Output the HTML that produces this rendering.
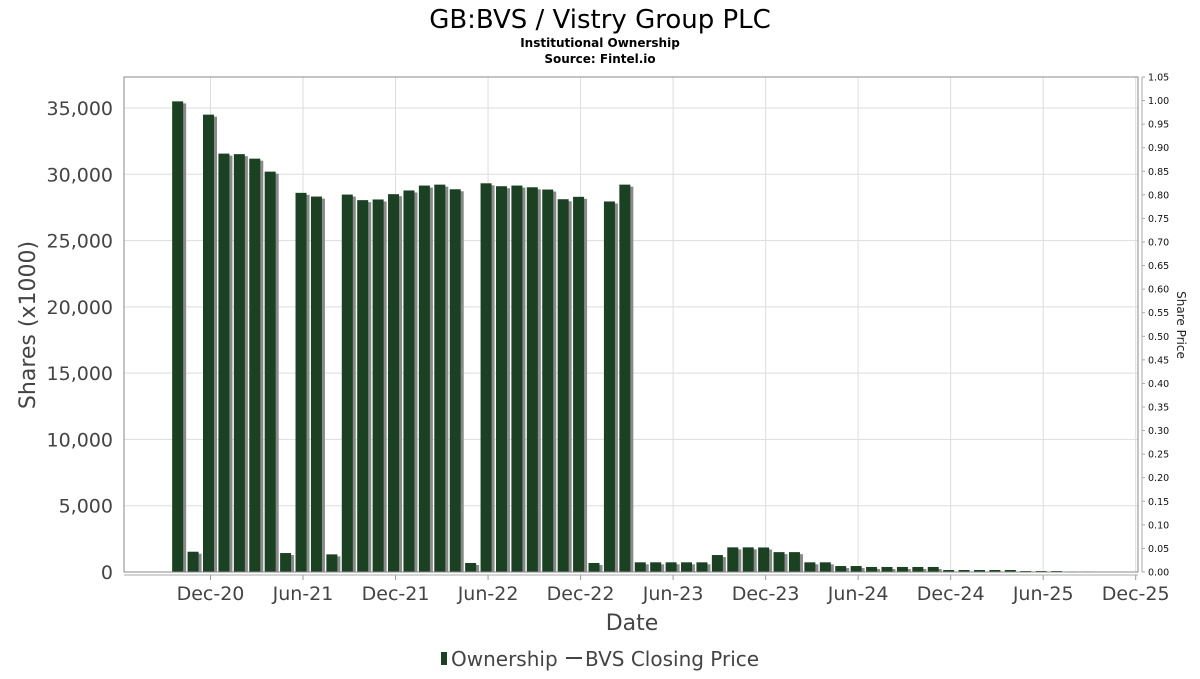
<!DOCTYPE html>
<html><head><meta charset="utf-8"><style>
body{margin:0;background:#fff;width:1200px;height:675px;overflow:hidden;font-family:"DejaVu Sans","Liberation Sans",sans-serif;}
svg text{font-family:"DejaVu Sans","Liberation Sans",sans-serif;}
</style></head><body>
<svg id="chart" width="1200" height="675" viewBox="0 0 1200 675" xmlns="http://www.w3.org/2000/svg">
<text x="600" y="28" text-anchor="middle" font-size="26" fill="#000">GB:BVS / Vistry Group PLC</text>
<text x="600" y="47" text-anchor="middle" font-size="12" font-weight="bold" fill="#000">Institutional Ownership</text>
<text x="600" y="63" text-anchor="middle" font-size="12" font-weight="bold" fill="#000">Source: Fintel.io</text>
<g id="grid"></g>
<g id="bars"></g>
<g id="axes"></g>
<text transform="translate(35,325) rotate(-90)" text-anchor="middle" font-size="22" fill="#444">Shares (x1000)</text>
<text transform="translate(1177,325) rotate(90)" text-anchor="middle" font-size="12" fill="#222">Share Price</text>
<text x="632" y="630" text-anchor="middle" font-size="22" fill="#444">Date</text>
<g>
<rect x="441" y="652" width="6" height="13" fill="#1a4222"/>
<text x="451" y="666" font-size="20" fill="#444">Ownership</text>
<line x1="566" y1="658" x2="582" y2="658" stroke="#444" stroke-width="2"/>
<text x="585" y="666" font-size="20" fill="#444">BVS Closing Price</text>
</g>
</svg>
<script>
const startMonth = "Oct-20";
const ownership = [35500,1530,34500,31560,31520,31180,30200,1430,28600,28320,1330,28470,28050,28100,28500,28780,29150,29220,28870,680,29320,29100,29150,29020,28850,28120,28300,680,27950,29220,730,730,730,730,730,1280,1860,1860,1850,1500,1500,730,730,450,450,380,380,380,380,380,150,150,150,150,150,75,75,75,40,40];
const xTickLabels = ["Dec-20","Jun-21","Dec-21","Jun-22","Dec-22","Jun-23","Dec-23","Jun-24","Dec-24","Jun-25","Dec-25"];
const yTicks = [0,5000,10000,15000,20000,25000,30000,35000];
const y2Ticks = [0,0.05,0.1,0.15,0.2,0.25,0.3,0.35,0.4,0.45,0.5,0.55,0.6,0.65,0.7,0.75,0.8,0.85,0.9,0.95,1.0,1.05];

const NS="http://www.w3.org/2000/svg";
const L=124,R=1138,T=77,B=572;
const monthPx=15.42, dec20X=210.5, barShift=-2;
function xMonth(i){return dec20X+(i-2)*monthPx;}
function yS(v){return B-v*(B-108)/35000;}
function y2(v){return B-v*(B-T)/1.05;}
function mk(tag,attrs,parent){const e=document.createElementNS(NS,tag);for(const k in attrs)e.setAttribute(k,attrs[k]);parent.appendChild(e);return e;}
const grid=document.getElementById('grid'),bars=document.getElementById('bars'),axes=document.getElementById('axes');
mk('rect',{x:L,y:T,width:R-L,height:B-T,fill:'#fff',stroke:'none'},grid);
yTicks.forEach(v=>{
  const l=mk('line',{x1:L,x2:R,y1:yS(v),y2:yS(v),stroke:'#ddd','stroke-width':1},grid);
  
  
  const t=mk('text',{x:113,y:yS(v)+7,'text-anchor':'end','font-size':19,fill:'#444'},axes);
  t.textContent=v.toLocaleString('en-US');
  
  
});
xTickLabels.forEach((s,k)=>{
  const x=xMonth(2+6*k);
  const l=mk('line',{x1:x,x2:x,y1:T,y2:B,stroke:'#ddd','stroke-width':1},grid);
  
  
  mk('line',{x1:x,x2:x,y1:B+3,y2:B+8,stroke:'#999'},axes);
  const t=mk('text',{x:x,y:600,'text-anchor':'middle','font-size':19,fill:'#444'},axes);
  t.textContent=s;
  
  
});
ownership.forEach((v,i)=>{
  const cx=xMonth(i)+barShift, w=11, y=yS(v), h=B-y;
  const sh=mk('rect',{x:cx-w/2+3,y:y+2,width:w,height:Math.max(0,h-2),fill:'#8a8a8a'},bars);
  
  
  const b=mk('rect',{x:cx-w/2,y:y,width:w,height:h,fill:'#1a4222'},bars);
  
  
});
mk('rect',{x:L,y:T,width:R-L,height:B-T,fill:'none',stroke:'#888','stroke-width':1},axes);
mk('line',{x1:L,x2:R,y1:B+3,y2:B+3,stroke:'#aaa'},axes);
mk('line',{x1:1142,x2:1142,y1:T,y2:B,stroke:'#aaa'},axes);
y2Ticks.forEach(v=>{
  mk('line',{x1:1142,x2:1145,y1:y2(v),y2:y2(v),stroke:'#aaa'},axes);
  const t=mk('text',{x:1148,y:y2(v)+3.5,'font-size':9.5,fill:'#111'},axes);
  t.textContent=v.toFixed(2);
  
  
});
</script>
</body></html>
